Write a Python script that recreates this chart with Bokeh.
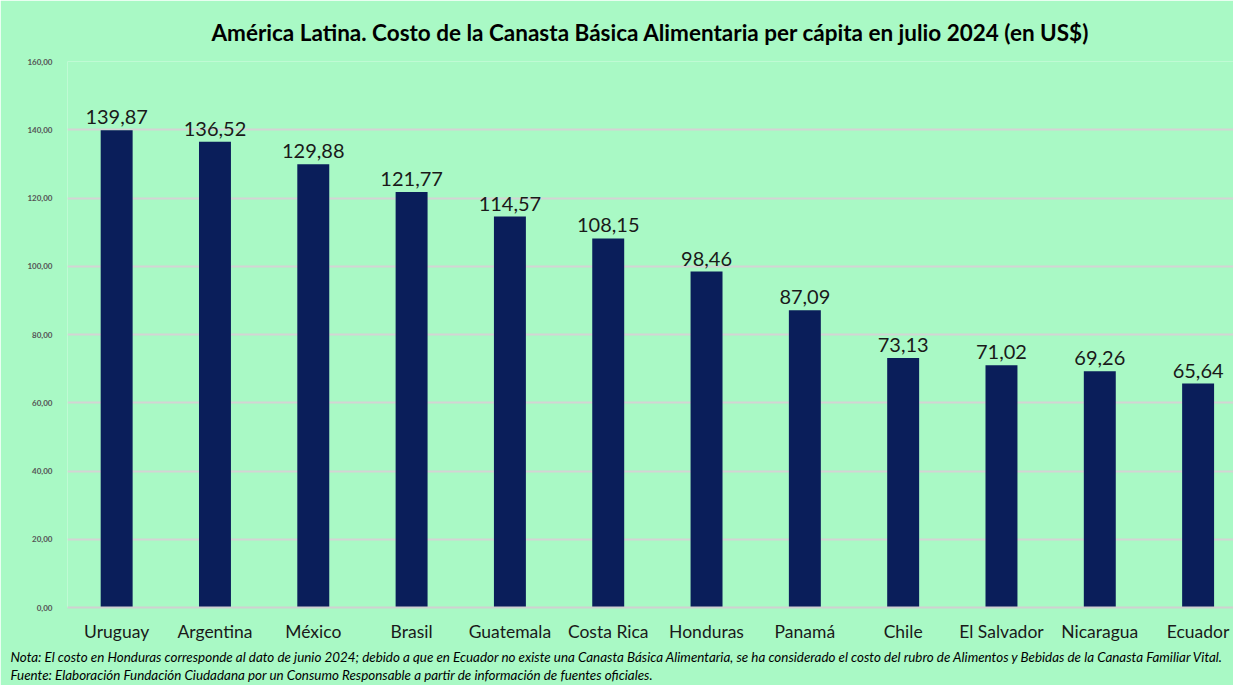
from bokeh.plotting import figure
from bokeh.models import ColumnDataSource, Range1d, FixedTicker, Title
from bokeh.core.properties import value
from bokeh.embed import file_html
from bokeh.resources import INLINE

countries = ["Uruguay", "Argentina", "México", "Brasil", "Guatemala", "Costa Rica",
             "Honduras", "Panamá", "Chile", "El Salvador", "Nicaragua", "Ecuador"]
costs = [139.87, 136.52, 129.88, 121.77, 114.57, 108.15, 98.46, 87.09, 73.13, 71.02, 69.26, 65.64]
y_ticks = [0, 20, 40, 60, 80, 100, 120, 140, 160]

title_text = "América Latina. Costo de la Canasta Básica Alimentaria per cápita en julio 2024 (en US$)"
note_text = ("Nota: El costo en Honduras corresponde al dato de junio 2024; debido a que en Ecuador no existe una "
             "Canasta Básica Alimentaria, se ha considerado el costo del rubro de Alimentos y Bebidas de la Canasta Familiar Vital.")
source_text = "Fuente: Elaboración Fundación Ciudadana por un Consumo Responsable a partir de información de fuentes oficiales."

def fmt(v):
    return f"{v:.2f}".replace(".", ",")

idx = list(range(len(countries)))
src = ColumnDataSource(dict(x=idx, y=costs, lab=[fmt(v) for v in costs]))

BG = "#A9F9C5"
p = figure(width=1233, height=685, output_backend="svg", toolbar_location=None,
           x_range=Range1d(-0.5, 11.36), y_range=Range1d(0, 160),
           background_fill_color=BG, border_fill_color=BG,
           min_border_left=67, min_border_right=0, min_border_top=61, min_border_bottom=78)
p.outline_line_color = None

p.title.text = title_text
p.title.align = "center"
p.title.text_font = "Lato"
p.title.text_font_size = "22.5px"
p.title.text_font_style = "bold"
p.title.text_color = "#000000"
p.title.offset = 0
p.title.standoff = 31

p.vbar(x="x", top="y", width=0.325, source=src, color="#0A1E5A", line_color=None)
p.text(x="x", y="y", text="lab", source=src, text_align="center", text_baseline="bottom",
       y_offset=-6, text_font=value("Lato"), text_font_size="20px", text_color="#1a1a1a")

p.xaxis.ticker = FixedTicker(ticks=idx)
p.xaxis.major_label_overrides = {i: c for i, c in zip(idx, countries)}
p.xaxis.major_label_text_font = "Lato"
p.xaxis.major_label_text_font_size = "17.5px"
p.xaxis.major_label_text_color = "#1a1a1a"
p.xaxis.major_label_standoff = 7
p.xaxis.axis_line_color = "#d0d0d0"
p.xaxis.axis_line_width = 2
p.xaxis.major_tick_line_color = None
p.xaxis.minor_tick_line_color = None

p.yaxis.ticker = FixedTicker(ticks=y_ticks)
p.yaxis.major_label_overrides = {t: fmt(t) for t in y_ticks}
p.yaxis.major_label_text_font = "Lato"
p.yaxis.major_label_text_font_size = "8px"
p.yaxis.major_label_text_font_style = "bold"
p.yaxis.major_label_text_color = "#555555"
p.yaxis.major_label_standoff = 9
p.yaxis.axis_line_color = None
p.yaxis.major_tick_line_color = None
p.yaxis.minor_tick_line_color = None

p.xgrid.grid_line_color = None
p.ygrid.grid_line_color = "#d4d4d4"
p.ygrid.grid_line_width = 2

p.add_layout(Title(text=note_text + "\n" + source_text, align="left", text_font="Lato",
                   text_font_size="13.4px", text_font_style="italic", text_color="#000000",
                   offset=-57, standoff=5, text_line_height=1.1), "below")

open("out.html", "w").write(file_html(p, INLINE))
